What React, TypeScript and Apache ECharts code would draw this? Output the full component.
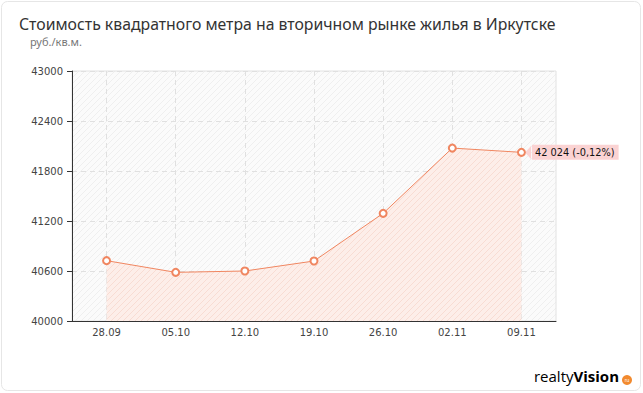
import React, { useEffect, useRef } from "react";
import * as echarts from "echarts";

const categories = ["28.09", "05.10", "12.10", "19.10", "26.10", "02.11", "09.11"];
const prices = [40724, 40584, 40600, 40720, 41292, 42075, 42024];
const lastLabel = "42 024 (-0,12%)";
const titleText = "Стоимость квадратного метра на вторичном рынке жилья в Иркутске";
const unitText = "руб./кв.м.";

function makeHatch(bg: string, line: string): HTMLCanvasElement {
  const c = document.createElement("canvas");
  c.width = 6;
  c.height = 6;
  const ctx = c.getContext("2d")!;
  ctx.fillStyle = bg;
  ctx.fillRect(0, 0, 6, 6);
  ctx.strokeStyle = line;
  ctx.lineWidth = 1;
  ctx.beginPath();
  ctx.moveTo(-1, 7);
  ctx.lineTo(7, -1);
  ctx.moveTo(-1, 1);
  ctx.lineTo(1, -1);
  ctx.moveTo(5, 7);
  ctx.lineTo(7, 5);
  ctx.stroke();
  return c;
}

export default function App() {
  const ref = useRef<HTMLDivElement>(null);
  useEffect(() => {
    if (!ref.current) return;
    const chart = echarts.init(ref.current, undefined, { renderer: "svg" });
    const gridHatch = makeHatch("#fbfbfb", "#efefef");
    const areaHatch = makeHatch("#fdeee9", "#f8dcd3");
    const font = "'DejaVu Sans', Verdana, sans-serif";
    chart.setOption({
      animation: false,
      backgroundColor: "#ffffff",
      textStyle: { fontFamily: font },
      title: [
        {
          text: titleText,
          left: 14,
          top: 11,
          textStyle: { fontFamily: "'Noto Sans', sans-serif", fontSize: 15.8, fontWeight: "normal", color: "#333" },
        },
        {
          text: unitText,
          left: 25,
          top: 31,
          textStyle: { fontFamily: "'Noto Sans', sans-serif", fontSize: 11, fontWeight: "normal", color: "#777" },
        },
      ],
      grid: {
        left: 72,
        right: 87,
        top: 71,
        bottom: 72,
        show: true,
        backgroundColor: { image: gridHatch, repeat: "repeat" },
        borderColor: "#e2e2e2",
        borderWidth: 1,
      },
      xAxis: {
        type: "category",
        data: categories,
        boundaryGap: true,
        axisLine: { lineStyle: { color: "#333", width: 1 } },
        axisTick: { alignWithLabel: true, length: 5, lineStyle: { color: "#333" } },
        axisLabel: { color: "#444", fontSize: 10, margin: 6, fontFamily: font },
        splitLine: { show: true, alignWithLabel: true, lineStyle: { color: "#e0e0e0", type: [5, 4] } },
      },
      yAxis: {
        type: "value",
        min: 40000,
        max: 43000,
        interval: 600,
        axisLine: { show: true, lineStyle: { color: "#333", width: 1 } },
        axisTick: { show: true, length: 5, lineStyle: { color: "#333" } },
        axisLabel: { color: "#444", fontSize: 10, margin: 9, fontFamily: font, formatter: (v: number) => String(v) },
        splitLine: { show: true, lineStyle: { color: "#e0e0e0", type: [5, 4] } },
      },
      series: [
        {
          type: "line",
          data: prices.map((v, i) =>
            i === prices.length - 1
              ? {
                  value: v,
                  label: {
                    show: true,
                    position: "right",
                    distance: 6,
                    formatter: lastLabel,
                    backgroundColor: "#fbd3d3",
                    color: "#111",
                    fontSize: 9.8,
                    fontFamily: font,
                    padding: [3, 4, 2, 3],
                  },
                }
              : v
          ),
          symbol: "emptyCircle",
          symbolSize: 7,
          lineStyle: { color: "#f08660", width: 1 },
          itemStyle: { color: "#f08660", borderWidth: 1 },
          areaStyle: { color: { image: areaHatch, repeat: "repeat" }, origin: "start", opacity: 1 },
        },
      ],
      graphic: [
        {
          type: "rect",
          shape: { x: 1.5, y: 1.5, width: 639, height: 389, r: 6 },
          style: { fill: "none", stroke: "#e6e6e6", lineWidth: 1 },
          silent: true,
        },
        {
          type: "polygon",
          shape: { points: [[525, 152.5], [531, 146], [531, 159]] },
          style: { fill: "#fbd3d3" },
          silent: true,
        },
        {
          type: "text",
          right: 24,
          top: 368,
          style: {
            text: "{a|realty}{b|Vision}",
            rich: {
              a: { fontFamily: "'Open Sans', sans-serif", fontSize: 15, color: "#333" },
              b: { fontFamily: "'Open Sans', sans-serif", fontSize: 15, fontWeight: "bold", color: "#333" },
            },
          },
        },
        {
          type: "circle",
          shape: { cx: 627, cy: 380, r: 5 },
          style: { fill: "#f28a2e" },
        },
        {
          type: "text",
          x: 627,
          y: 380,
          style: { text: "ru", fontSize: 5, fill: "#fff", align: "center", verticalAlign: "middle" },
        },
      ],
    });
    return () => chart.dispose();
  }, []);
  return <div ref={ref} style={{ width: 643, height: 393, position: "absolute", left: 0, top: 0 }} />;
}
